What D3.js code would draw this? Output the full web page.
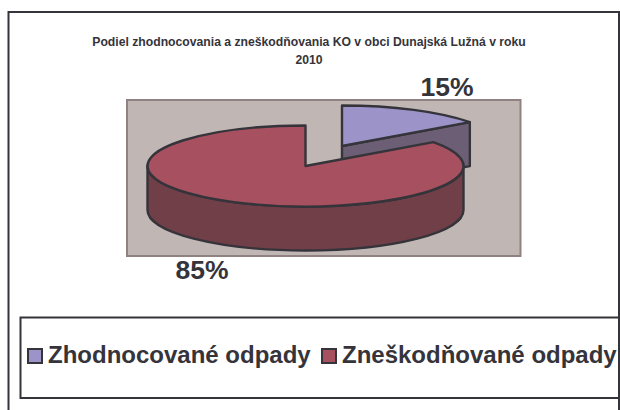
<!DOCTYPE html>
<html>
<head>
<meta charset="utf-8">
<script src="https://cdn.jsdelivr.net/npm/d3@7"></script>
<style>
html, body { margin: 0; padding: 0; background: #fff; }
svg { display: block; }
text { font-family: "Liberation Sans", Arial, sans-serif; font-weight: bold; fill: #35343a; }
</style>
</head>
<body>
<svg id="chart" width="620" height="410"></svg>
<script>
var categories = ["Zhodnocované odpady", "Zneškodňované odpady"];
var shares = [15, 85];
var labels = ["15%", "85%"];
var titleLines = ["Podiel zhodnocovania a zneškodňovania KO v obci Dunajská Lužná v roku", "2010"];

var topColors = ["#9c94c9", "#a65060"];
var wallColors = ["#6c5f75", "#703f48"];
var ink = "#35343a";

var svg = d3.select("#chart");

// outer frame has no bottom edge, it runs off the picture
svg.append("path")
    .attr("d", "M8.5,410V12H619V410")
    .attr("fill", "none")
    .attr("stroke", ink)
    .attr("stroke-width", 2);

svg.selectAll("text.title")
    .data(titleLines)
    .enter()
    .append("text")
    .attr("class", "title")
    .attr("x", 309)
    .attr("y", function(d, i) { return 46 + i * 18; })
    .attr("text-anchor", "middle")
    .attr("font-size", 12.2)
    .text(function(d) { return d; });

// plot area
svg.append("rect")
    .attr("x", 127)
    .attr("y", 100)
    .attr("width", 393.5)
    .attr("height", 156)
    .attr("fill", "#c0b6b3")
    .attr("stroke", "#8f8280")
    .attr("stroke-width", 2);

var rx = 158, ry = 40.5, depth = 44;
var centers = [[342, 146], [305.5, 166]]; // blue slice is pulled out

var slices = d3.pie().sort(null)(shares);

function rim(i, angle) {
    var c = centers[i];
    return [c[0] + rx * Math.sin(angle), c[1] - ry * Math.cos(angle)];
}

function topFace(i) {
    var s = slices[i], c = centers[i];
    var a = rim(i, s.startAngle), b = rim(i, s.endAngle);
    var large = s.endAngle - s.startAngle > Math.PI ? 1 : 0;
    return "M" + c + "L" + a + "A" + rx + "," + ry + " 0 " + large + " 1 " + b + "Z";
}

// cut face of the blue slice, the part of it that shows sits behind the red one
function cutFace(i) {
    var c = centers[i], a = rim(i, slices[i].endAngle);
    return "M" + c + "L" + a + "L" + [a[0], a[1] + depth] + "L" + [c[0], c[1] + depth] + "Z";
}

// front wall of the red slice, right extreme round to the left extreme
function frontWall(i) {
    var a = rim(i, Math.PI / 2), b = rim(i, Math.PI * 1.5);
    return "M" + a + "A" + rx + "," + ry + " 0 0 1 " + b +
        "L" + [b[0], b[1] + depth] +
        "A" + rx + "," + ry + " 0 0 0 " + [a[0], a[1] + depth] + "Z";
}

var pie = svg.append("g")
    .attr("stroke", ink)
    .attr("stroke-width", 2.4)
    .attr("stroke-linejoin", "round");

pie.append("path").attr("d", cutFace(0)).attr("fill", wallColors[0]);
pie.append("path").attr("d", topFace(0)).attr("fill", topColors[0]);
pie.append("path").attr("d", frontWall(1)).attr("fill", wallColors[1]);
pie.append("path").attr("d", topFace(1)).attr("fill", topColors[1]);

svg.selectAll("text.pct")
    .data(labels)
    .enter()
    .append("text")
    .attr("class", "pct")
    .attr("x", function(d, i) { return [447, 202][i]; })
    .attr("y", function(d, i) { return [96, 279][i]; })
    .attr("text-anchor", "middle")
    .attr("font-size", 26.5)
    .text(function(d) { return d; });

// legend box, cut by the frame on the right
svg.append("path")
    .attr("d", "M619,317.5H20.5V398H619")
    .attr("fill", "none")
    .attr("stroke", ink)
    .attr("stroke-width", 2);

var legendX = d3.scaleOrdinal().domain(categories).range([28, 322]);

var legend = svg.selectAll("g.legend")
    .data(categories)
    .enter()
    .append("g")
    .attr("class", "legend")
    .attr("transform", function(d) { return "translate(" + legendX(d) + ",0)"; });

legend.append("rect")
    .attr("y", 349)
    .attr("width", 14)
    .attr("height", 14)
    .attr("fill", function(d, i) { return topColors[i]; })
    .attr("stroke", ink)
    .attr("stroke-width", 2);

legend.append("text")
    .attr("x", 20)
    .attr("y", 363)
    .attr("font-size", 24)
    .text(function(d) { return d; });
</script>
</body>
</html>
